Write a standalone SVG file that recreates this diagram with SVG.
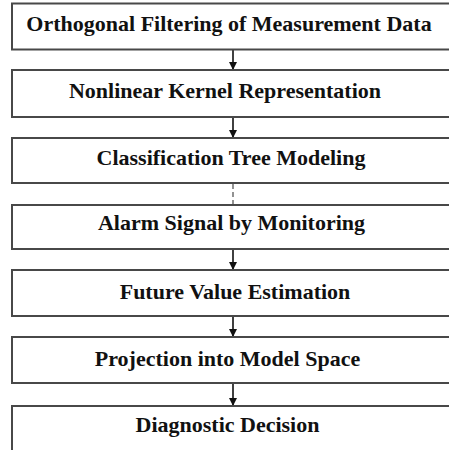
<svg xmlns="http://www.w3.org/2000/svg" width="449" height="450" viewBox="0 0 449 450">
<defs>
<style>
.box{fill:#fff;stroke:#484848;stroke-width:2}
.lbl{font-family:"Liberation Serif","Times New Roman",serif;font-weight:bold;font-size:22px;fill:#111;text-anchor:middle}
.conn{stroke:#111;stroke-width:1.6;fill:none}
.dash{stroke:#777;stroke-width:1.6;stroke-dasharray:5 3;fill:none}
</style>
<marker id="ah" viewBox="0 0 8 8" refX="8" refY="4" markerWidth="8" markerHeight="8" markerUnits="userSpaceOnUse" orient="auto">
<path d="M0,0 L8,4 L0,8 Z" fill="#111"/>
</marker>
</defs>
<rect width="449" height="450" fill="#fff"/>
<g id="connectors">
<line class="conn" x1="233" y1="50" x2="233" y2="70" marker-end="url(#ah)"/>
<line class="conn" x1="233" y1="117" x2="233" y2="138" marker-end="url(#ah)"/>
<line class="dash" x1="233" y1="184" x2="233" y2="204"/>
<line class="conn" x1="233" y1="250" x2="233" y2="270" marker-end="url(#ah)"/>
<line class="conn" x1="233" y1="316" x2="233" y2="337" marker-end="url(#ah)"/>
<line class="conn" x1="233" y1="383" x2="233" y2="406" marker-end="url(#ah)"/>
</g>
<g id="n1"><rect class="box" x="12" y="3.5" width="445" height="46"/><text class="lbl" x="229" y="31">Orthogonal Filtering  of Measurement Data</text></g>
<g id="n2"><rect class="box" x="12" y="70" width="445" height="47"/><text class="lbl" x="225" y="98">Nonlinear Kernel Representation</text></g>
<g id="n3"><rect class="box" x="12" y="138" width="445" height="45"/><text class="lbl" x="231" y="165">Classification Tree Modeling</text></g>
<g id="n4"><rect class="box" x="12" y="205" width="445" height="44"/><text class="lbl" x="231.5" y="230">Alarm Signal by Monitoring</text></g>
<g id="n5"><rect class="box" x="12" y="270" width="445" height="46"/><text class="lbl" x="235" y="299">Future Value Estimation</text></g>
<g id="n6"><rect class="box" x="12" y="337" width="445" height="46"/><text class="lbl" x="227.5" y="366">Projection into Model Space</text></g>
<g id="n7"><rect class="box" x="12" y="406" width="445" height="60"/><text class="lbl" x="227.5" y="432">Diagnostic Decision</text></g>
</svg>
